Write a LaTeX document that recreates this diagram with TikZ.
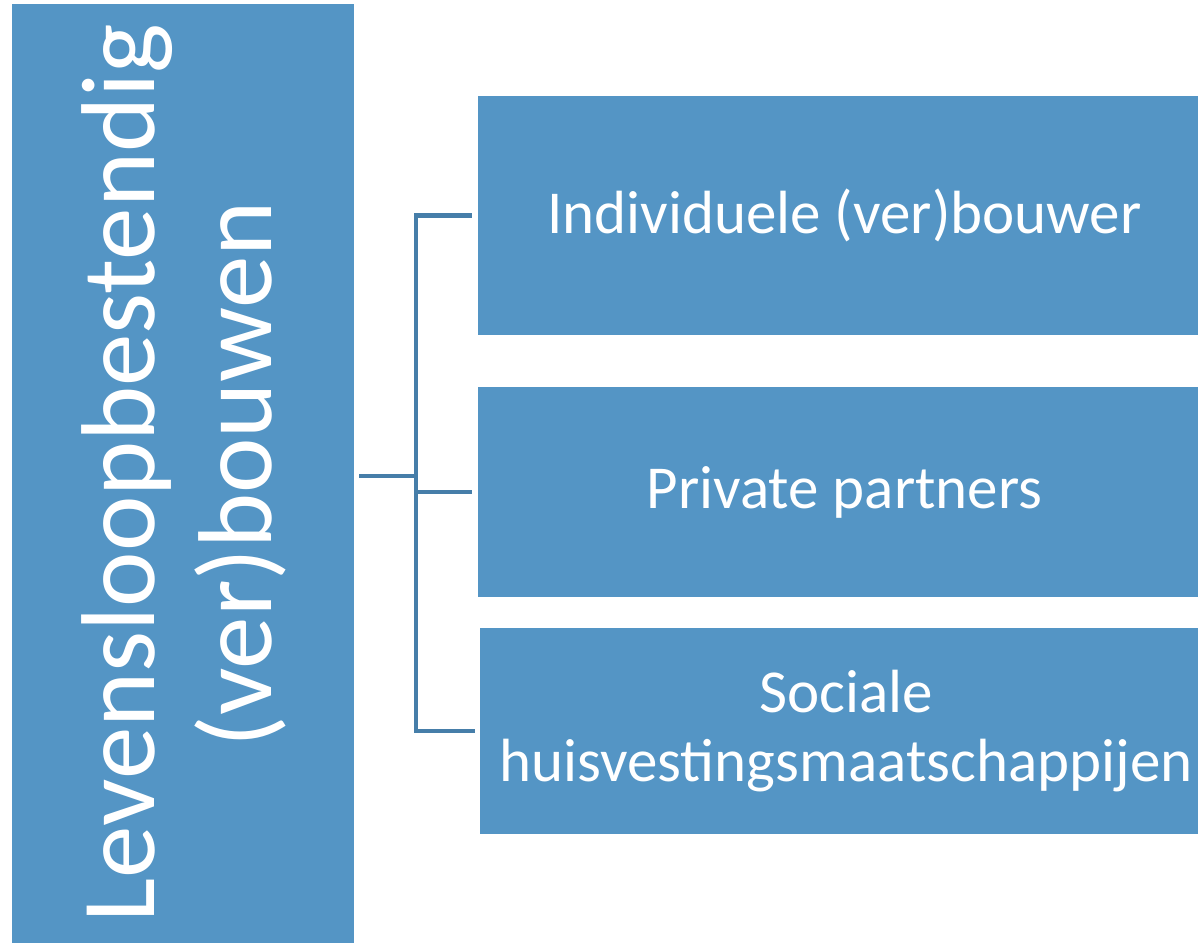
\documentclass[tikz,border=0pt]{standalone}
\usepackage{fontspec}
\setmainfont{Carlito}
\definecolor{boxblue}{HTML}{5495C5}
\definecolor{linkblue}{HTML}{467EA9}
\begin{document}
\begin{tikzpicture}[x=1pt,y=-1pt,
  box/.style={fill=boxblue, draw=none, inner sep=0pt, text=white, align=center},
  conn/.style={draw=linkblue, line width=4.5pt},
  bigtext/.style={text=white, rotate=90, anchor=base, inner sep=0pt, font=\fontsize{105}{117}\selectfont},
  childtext/.style={font=\fontsize{61}{69}\selectfont}]
\useasboundingbox (0,0) rectangle (1198,943);
\node[box, minimum width=342pt, minimum height=939pt] (L) at (183,473.5) {};
\node[bigtext] (t1) at (154,473) {Levensloopbestendig};
\node[bigtext] (t2) at (271,474.5) {(ver)bouwen};
\node[box, childtext, minimum width=733pt, minimum height=239pt] (A) at (844.5,215.5) {Individuele (ver)bouwer};
\node[box, childtext, minimum width=733pt, minimum height=210pt] (B) at (844.5,492) {Private partners};
\node[box, childtext, minimum width=732pt, minimum height=206pt] (C) at (846,731) {Sociale\\huisvestingsmaatschappijen};
\draw[conn] ([shift={(5,2.5)}]L.east) -- ++(57,0) |- ([xshift=-6pt]A.west);
\draw[conn] ([shift={(5,2.5)}]L.east) -- ++(57,0) |- ([xshift=-6pt]B.west);
\draw[conn] ([shift={(5,2.5)}]L.east) -- ++(57,0) |- ([xshift=-5pt]C.west);
\end{tikzpicture}
\end{document}
